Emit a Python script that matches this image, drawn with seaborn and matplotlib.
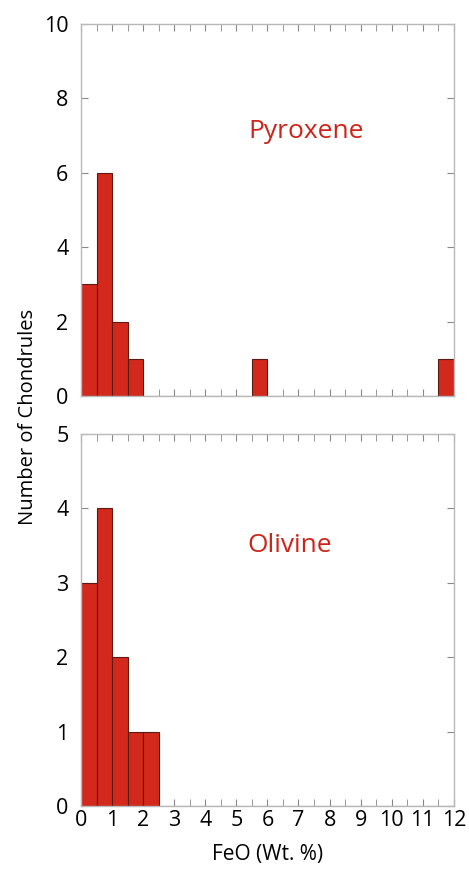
import numpy as np
import pandas as pd
import matplotlib
matplotlib.use("Agg")
import matplotlib.pyplot as plt
import seaborn as sns

# histogram bins (left edges, 0.5 wt.% wide) and chondrule counts
bin_left = [0.0, 0.5, 1.0, 1.5, 2.0, 5.5, 11.5]
pyroxene_counts = [3, 6, 2, 1, 0, 1, 1]
olivine_counts = [3, 4, 2, 1, 1, 0, 0]
bin_width = 0.5

sns.set_style("white")
plt.rcParams['font.family'] = ['Open Sans', 'DejaVu Sans']

bar_color = "#d3281c"
edge_color = "#5c1a12"
text_red = "#cc2418"
spine_gray = "#b8b8b8"

df = pd.DataFrame({
    "center": np.array(bin_left) + bin_width / 2,
    "Pyroxene": pyroxene_counts,
    "Olivine": olivine_counts,
})

fig = plt.figure(figsize=(4.69, 8.69), dpi=100)
ax_top = fig.add_axes([0.1727, 0.5443, 0.795, 0.428])
ax_bot = fig.add_axes([0.1727, 0.0725, 0.795, 0.428])


def draw_panel(ax, col, ymax, yticks, label, label_xy, show_xlabels):
    sns.histplot(data=df, x="center", weights=col, binwidth=bin_width,
                 binrange=(0, 12), color=bar_color, edgecolor=edge_color,
                 linewidth=0.8, alpha=1, ax=ax)
    ax.set_xlim(0, 12)
    ax.set_ylim(0, ymax)
    ax.set_yticks(yticks)
    ax.set_xticks(np.arange(0, 13, 1))
    ax.set_xticks(np.arange(0, 12.01, 0.5), minor=True)
    for s in ax.spines.values():
        s.set_color(spine_gray)
        s.set_linewidth(1.0)
        s.set_visible(True)
    ax.tick_params(axis="x", which="both", direction="in", length=5,
                   color="#888888", top=True, bottom=True,
                   labelsize=15.5, labelcolor="black", pad=3)
    ax.tick_params(axis="y", which="major", direction="in", length=5,
                   color="#888888", left=True, right=True,
                   labelsize=15.5, labelcolor="black", pad=9)
    if not show_xlabels:
        ax.tick_params(axis="x", labelbottom=False)
    ax.set_xlabel("")
    ax.set_ylabel("")
    ax.text(label_xy[0], label_xy[1], label, color=text_red, fontsize=19,
            transform=ax.transAxes, ha="left", va="center")


draw_panel(ax_top, "Pyroxene", 10, np.arange(0, 11, 2), "Pyroxene",
           (0.45, 0.712), False)
draw_panel(ax_bot, "Olivine", 5, np.arange(0, 6, 1), "Olivine",
           (0.445, 0.7), True)

ax_bot.set_xlabel("FeO (Wt. %)", fontsize=15, color="black", labelpad=9)
fig.text(0.06, 0.52, "Number of Chondrules", rotation=90, fontsize=14.5,
         color="black", ha="center", va="center")

fig.savefig("out.png", dpi=100)
